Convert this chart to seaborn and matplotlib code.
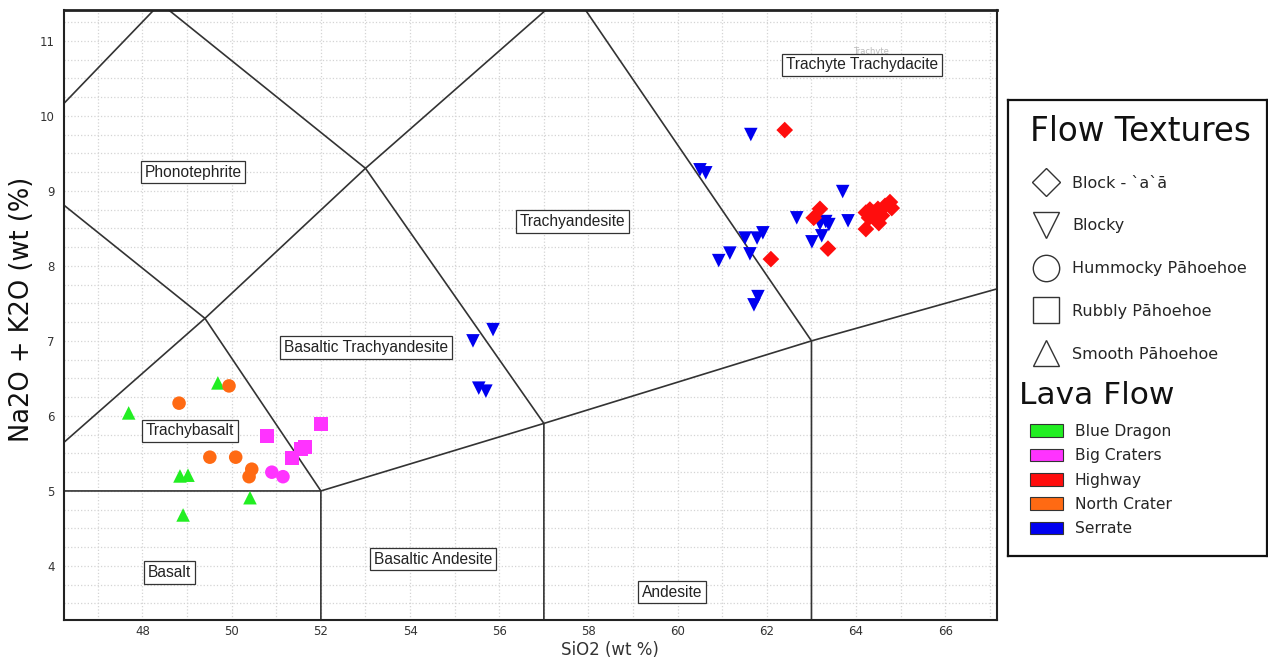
"""TAS diagram of lava flow samples by flow texture."""

import matplotlib

matplotlib.use("Agg")
import matplotlib.pyplot as plt
import matplotlib.ticker as mticker
import pandas as pd
import seaborn as sns
from matplotlib.lines import Line2D
from matplotlib.patches import Patch

# Sample data (SiO2 wt %, Na2O + K2O wt %)
blue_dragon_sio2 = [49.69, 47.69, 48.84, 49.02, 50.41, 48.91]
blue_dragon_alk = [6.44, 6.04, 5.20, 5.21, 4.91, 4.68]

north_crater_sio2 = [49.94, 48.82, 49.51, 50.09, 50.45, 50.39]
north_crater_alk = [6.40, 6.17, 5.45, 5.45, 5.29, 5.19]

big_craters_rubbly_sio2 = [50.79, 52.00, 51.64, 51.55, 51.35]
big_craters_rubbly_alk = [5.73, 5.89, 5.59, 5.56, 5.44]
big_craters_hummocky_sio2 = [50.90, 51.15]
big_craters_hummocky_alk = [5.25, 5.19]

serrate_sio2 = [55.86, 55.41, 55.54, 55.70,
                61.64, 60.50, 60.63, 63.70, 62.67, 63.82, 63.19, 63.32, 63.39,
                63.01, 63.23, 61.51, 61.78, 61.91, 61.17, 60.92, 61.62, 61.80, 61.71]
serrate_alk = [7.15, 7.00, 6.37, 6.33,
               9.75, 9.28, 9.24, 8.99, 8.64, 8.60, 8.56, 8.59, 8.55,
               8.32, 8.40, 8.37, 8.37, 8.44, 8.17, 8.07, 8.16, 7.59, 7.48]

highway_sio2 = [62.40, 63.19, 63.05, 64.22, 63.37, 62.09,
                64.22, 64.31, 64.40, 64.49, 64.58, 64.47, 64.51, 64.65, 64.76, 64.80, 64.29]
highway_alk = [9.81, 8.76, 8.64, 8.49, 8.23, 8.09,
               8.71, 8.75, 8.71, 8.76, 8.67, 8.61, 8.57, 8.80, 8.85, 8.77, 8.64]

flow_names = ["Blue Dragon", "Big Craters", "Highway", "North Crater", "Serrate"]
flow_colors = ["#22ee22", "#ff33ff", "#ff0d0d", "#ff6a13", "#0000f0"]

texture_names = ["Block - `a`ā", "Blocky", "Hummocky Pāhoehoe",
                 "Rubbly Pāhoehoe", "Smooth Pāhoehoe"]
texture_markers = ["D", "v", "o", "s", "^"]

# TAS field boundaries (Le Bas et al.)
tas_lines = [
    [(45, 5), (52, 5), (57, 5.9), (63, 7), (69, 8)],
    [(52, 0), (52, 5), (49.4, 7.3), (45, 9.4)],
    [(45, 5), (49.4, 7.3), (53, 9.3), (57.6, 11.7)],
    [(57, 0), (57, 5.9), (53, 9.3), (48.4, 11.5)],
    [(63, 0), (63, 7), (57.6, 11.7)],
    [(45, 9.4), (48.4, 11.5), (52.5, 14)],
]

field_names = ["Phonotephrite", "Trachyandesite", "Trachyte Trachydacite",
               "Basaltic Trachyandesite", "Trachybasalt", "Basalt",
               "Basaltic Andesite", "Andesite"]
field_x = [49.13, 57.65, 64.13, 53.01, 49.06, 48.61, 54.51, 59.87]
field_y = [9.25, 8.59, 10.68, 6.91, 5.80, 3.91, 4.09, 3.65]


def build_frame():
    parts = [
        ("Blue Dragon", "Smooth Pāhoehoe", blue_dragon_sio2, blue_dragon_alk),
        ("North Crater", "Hummocky Pāhoehoe", north_crater_sio2, north_crater_alk),
        ("Big Craters", "Rubbly Pāhoehoe", big_craters_rubbly_sio2, big_craters_rubbly_alk),
        ("Big Craters", "Hummocky Pāhoehoe", big_craters_hummocky_sio2, big_craters_hummocky_alk),
        ("Serrate", "Blocky", serrate_sio2, serrate_alk),
        ("Highway", "Block - `a`ā", highway_sio2, highway_alk),
    ]
    frames = [
        pd.DataFrame({"flow": f, "texture": t, "sio2": x, "alkali": y})
        for f, t, x, y in parts
    ]
    return pd.concat(frames, ignore_index=True)


def main():
    df = build_frame()

    sns.set_style("white")
    plt.rcParams["font.family"] = ["DejaVu Sans"]

    fig = plt.figure(figsize=(12.68, 6.68), dpi=100)
    ax = fig.add_axes([64 / 1268, 48 / 668, 933 / 1268, 610 / 668])

    # Field boundaries
    for line in tas_lines:
        xs, ys = zip(*line)
        ax.plot(xs, ys, color="#333333", lw=1.2, zorder=2)

    # diamonds come out wider than the other markers at equal s
    marker_sizes = [72, 95, 95, 100, 95]
    sns.scatterplot(
        data=df,
        x="sio2",
        y="alkali",
        hue="flow",
        style="texture",
        size="texture",
        palette=dict(zip(flow_names, flow_colors)),
        markers=dict(zip(texture_names, texture_markers)),
        sizes=dict(zip(texture_names, marker_sizes)),
        linewidth=0,
        legend=False,
        ax=ax,
        zorder=3,
    )

    # Field labels
    for name, x, y in zip(field_names, field_x, field_y):
        ax.text(
            x, y, name, ha="center", va="center", fontsize=11.2, color="#222222",
            family=["Liberation Sans Narrow", "Liberation Sans"], zorder=4,
            bbox=dict(boxstyle="square,pad=0.24", fc="white", ec="#333333", lw=0.9),
        )
    ax.text(64.33, 10.86, "Trachyte", ha="center", va="center",
            fontsize=6, color="#bbbbbb", zorder=1)

    ax.set_xlim(46.24, 67.16)
    ax.set_ylim(3.28, 11.41)
    ax.xaxis.set_major_locator(mticker.MultipleLocator(2))
    ax.xaxis.set_minor_locator(mticker.MultipleLocator(1))
    ax.yaxis.set_major_locator(mticker.MultipleLocator(1))
    ax.yaxis.set_minor_locator(mticker.MultipleLocator(0.25))
    ax.grid(which="both", color="#d4d4d4", linestyle=":", linewidth=0.9, zorder=0)
    ax.set_axisbelow(True)
    ax.tick_params(axis="both", which="major", labelsize=8.5, colors="#333333",
                   length=3, width=0.8)
    ax.tick_params(axis="x", which="major", length=0)
    ax.tick_params(axis="both", which="minor", length=0)
    for side, spine in ax.spines.items():
        spine.set_color("#222222")
        spine.set_linewidth(1.5 if side != "top" else 2.0)

    ax.set_xlabel("SiO2 (wt %)", fontsize=12, color="#333333")
    ax.xaxis.set_label_coords(0.585, -0.035)
    ax.set_ylabel("Na2O + K2O (wt (%)", fontsize=18.5, color="#111111")
    ax.yaxis.set_label_coords(-0.031, 0.51)

    # Legend panel
    lax = fig.add_axes([1008 / 1268, 112 / 668, 259 / 1268, 456 / 668])
    lax.set_xticks([])
    lax.set_yticks([])
    for spine in lax.spines.values():
        spine.set_color("#111111")
        spine.set_linewidth(1.6)

    lax.text(0.085, 0.932, "Flow Textures", transform=lax.transAxes,
             fontsize=23.5, ha="left", va="center", color="#111111")
    lax.text(0.042, 0.353, "Lava Flow", transform=lax.transAxes,
             fontsize=22.5, ha="left", va="center", color="#111111")

    legend_marker_sizes = [14.3, 19, 19, 19, 19]
    texture_handles = [
        Line2D([0], [0], marker=m, linestyle="none", markersize=ms,
               markerfacecolor="white", markeredgecolor="#333333",
               markeredgewidth=1.0, label=t)
        for t, m, ms in zip(texture_names, texture_markers, legend_marker_sizes)
    ]
    leg1 = lax.legend(
        handles=texture_handles, loc="upper left",
        bbox_to_anchor=(0.06, 0.848), frameon=False, fontsize=11.5,
        labelspacing=1.74, handlelength=2.0, handletextpad=0.63,
        borderaxespad=0,
    )
    lax.add_artist(leg1)

    flow_handles = [
        Patch(facecolor=c, edgecolor="#333333", linewidth=0.8, label=f)
        for f, c in zip(flow_names, flow_colors)
    ]
    lax.legend(
        handles=flow_handles, loc="upper left",
        bbox_to_anchor=(0.062, 0.303), frameon=False, fontsize=11.2,
        labelspacing=0.6, handlelength=2.1, handleheight=0.85,
        handletextpad=0.75, borderaxespad=0,
    )

    fig.savefig("out.png", dpi=100)


if __name__ == "__main__":
    main()
